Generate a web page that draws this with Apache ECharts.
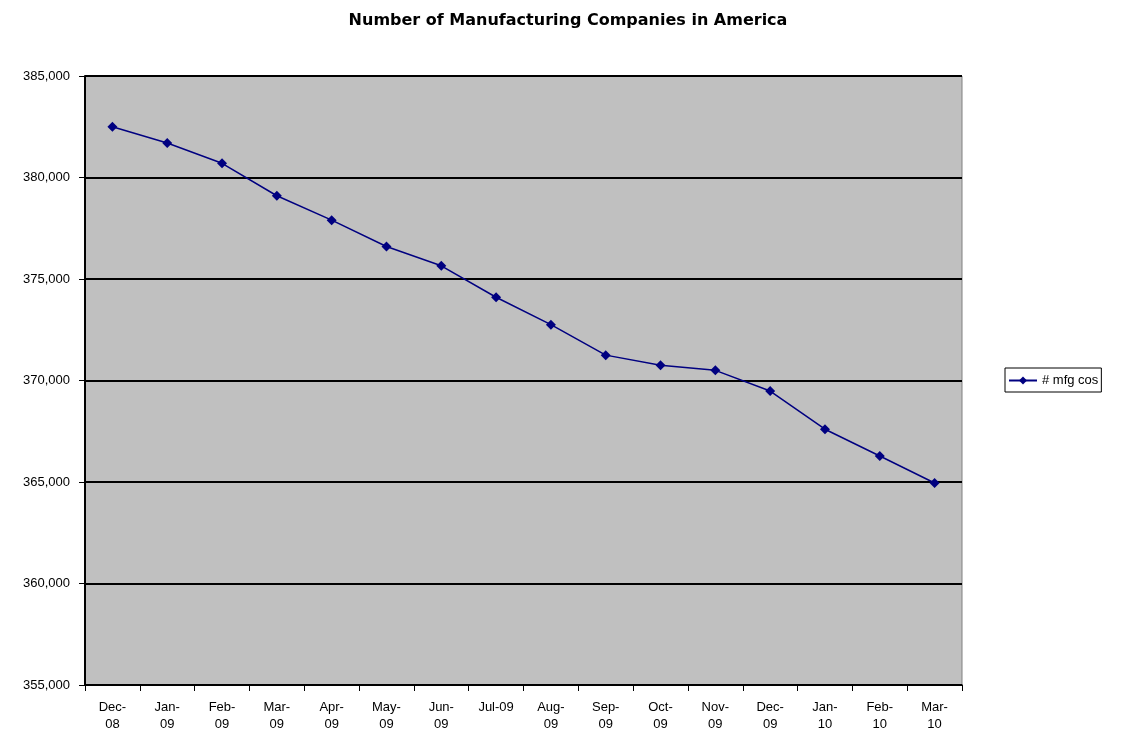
<!DOCTYPE html>
<html><head><meta charset="utf-8">
<script src="https://cdn.jsdelivr.net/npm/echarts@6/dist/echarts.min.js"></script>
<style>html,body{margin:0;padding:0;background:#fff}#c{width:1132px;height:743px}</style>
</head><body><div id="c"></div>
<script>
const categories = ['Dec-\n08','Jan-\n09','Feb-\n09','Mar-\n09','Apr-\n09','May-\n09','Jun-\n09','Jul-09','Aug-\n09','Sep-\n09','Oct-\n09','Nov-\n09','Dec-\n09','Jan-\n10','Feb-\n10','Mar-\n10'];
const mfgCos = [382500,381700,380700,379100,377900,376600,375650,374100,372750,371250,370750,370500,369480,367600,366280,364950];
const seriesName = '# mfg cos';
const titleText = 'Number of Manufacturing Companies in America';

const chart = echarts.init(document.getElementById('c'));
chart.setOption({
  animation:false,
  backgroundColor:'#fff',
  title:{text:titleText,left:563,top:8,textAlign:'center',
    textStyle:{fontFamily:'DejaVu Sans',fontWeight:'bold',fontSize:16,color:'#000'}},
  legend:{data:[seriesName],left:1005,top:368,orient:'vertical',
    itemWidth:28,itemHeight:10,itemGap:0,itemStyle:{color:'#000080'},padding:[6,3,5,3],
    borderColor:'#000',borderWidth:1,backgroundColor:'#fff',
    textStyle:{fontFamily:'Liberation Sans, Arial',fontSize:13,color:'#000'}},
  grid:{left:85,right:170,top:76,bottom:58,show:true,backgroundColor:'#c0c0c0',borderColor:'#808080',borderWidth:1},
  xAxis:{type:'category',data:categories,boundaryGap:true,
    axisLine:{lineStyle:{color:'#000',width:1.5}},
    axisTick:{show:true,length:6,lineStyle:{color:'#000'},alignWithLabel:false},
    axisLabel:{interval:0,fontFamily:'Liberation Sans, Arial',fontSize:13,color:'#000',lineHeight:17,margin:14}},
  yAxis:{type:'value',min:355000,max:385000,interval:5000,
    axisLine:{show:true,lineStyle:{color:'#000',width:2}},
    axisTick:{show:true,length:6,lineStyle:{color:'#000'}},
    splitLine:{show:true,lineStyle:{color:'#000',width:2}},
    axisLabel:{fontFamily:'Liberation Sans, Arial',fontSize:13,color:'#000',margin:15,
      formatter:v=>v.toLocaleString('en-US')}},
  series:[{name:seriesName,type:'line',data:mfgCos,color:'#000080',
    symbol:'diamond',symbolSize:10,showSymbol:true,
    lineStyle:{color:'#000080',width:1.5},itemStyle:{color:'#000080'}}]
});
</script></body></html>
